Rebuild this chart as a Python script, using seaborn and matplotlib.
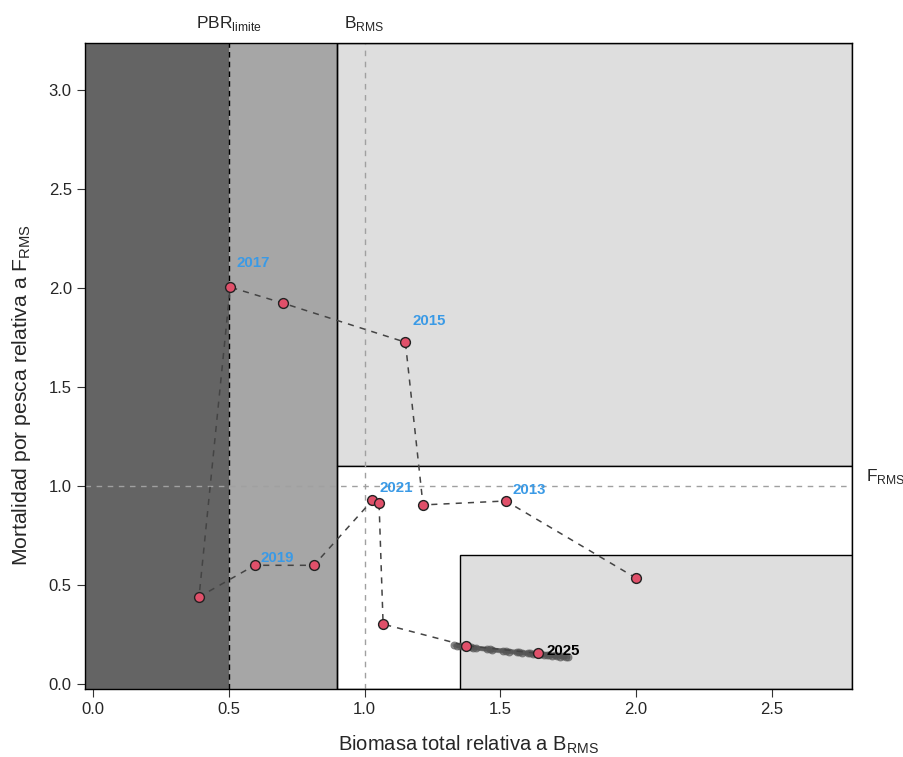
import numpy as np
import pandas as pd
import matplotlib
matplotlib.use('Agg')
import matplotlib.pyplot as plt
from matplotlib.patches import Rectangle
import seaborn as sns

# trayectoria observada (biomasa relativa, mortalidad relativa)
years = [2012, 2013, 2014, 2015, 2016, 2017, 2018, 2019, 2020, 2021, 2022, 2023, 2024, 2025]
b_rel = [2.00, 1.52, 1.215, 1.15, 0.70, 0.505, 0.39, 0.595, 0.813, 1.028, 1.053, 1.068, 1.372, 1.64]
f_rel = [0.535, 0.925, 0.905, 1.727, 1.924, 2.005, 0.44, 0.60, 0.60, 0.928, 0.917, 0.303, 0.194, 0.155]

label_years = [2013, 2015, 2017, 2019, 2021]

# proyecciones (varias trayectorias simuladas)
proj_b1 = [1.33, 1.39, 1.45, 1.51, 1.56, 1.60, 1.64, 1.67, 1.70, 1.73]
proj_f1 = [0.196, 0.186, 0.177, 0.169, 0.163, 0.158, 0.153, 0.149, 0.146, 0.143]
proj_b2 = [1.35, 1.41, 1.47, 1.53, 1.58, 1.62, 1.66, 1.69, 1.72, 1.75]
proj_f2 = [0.190, 0.180, 0.170, 0.162, 0.155, 0.150, 0.145, 0.141, 0.138, 0.136]
proj_b3 = [1.34, 1.40, 1.46, 1.52, 1.57, 1.61, 1.65, 1.68, 1.71, 1.74]
proj_f3 = [0.193, 0.184, 0.175, 0.167, 0.160, 0.155, 0.150, 0.146, 0.142, 0.139]

pbr_lim = 0.5
b_rms = 1.0
f_rms = 1.0

sns.set_style("ticks")
plt.rcParams['font.family'] = ['Liberation Sans', 'DejaVu Sans']

fig = plt.figure(figsize=(9.04, 7.57), dpi=100)
ax = fig.add_axes([0.094, 0.0898, 0.8485, 0.853])
xmin, xmax = -0.03, 2.795
ymin, ymax = -0.025, 3.237

# zonas
ax.add_patch(Rectangle((xmin, ymin), pbr_lim - xmin, ymax - ymin, facecolor='#646464', edgecolor='none', zorder=0))
ax.add_patch(Rectangle((pbr_lim, ymin), 0.9 - pbr_lim, ymax - ymin, facecolor='#a6a6a6', edgecolor='none', zorder=0))
ax.add_patch(Rectangle((0.9, 1.1), xmax - 0.9, ymax - 1.1, facecolor='#dedede', edgecolor='black', lw=1, zorder=0))
ax.add_patch(Rectangle((0.9, ymin), xmax - 0.9, 1.1 - ymin, facecolor='white', edgecolor='black', lw=1, zorder=0))
ax.add_patch(Rectangle((1.35, ymin), xmax - 1.35, 0.65 - ymin, facecolor='#dedede', edgecolor='black', lw=1, zorder=0))
ax.axvline(0.9, color='black', lw=1, zorder=0.5)

# referencias
ax.axvline(pbr_lim, color='black', ls=(0, (4, 3)), lw=1, zorder=1)
ax.axvline(b_rms, color='#a0a0a0', ls=(0, (4, 4)), lw=1, zorder=1)
ax.axhline(f_rms, color='#a0a0a0', ls=(0, (4, 4)), lw=1, zorder=1)

# proyecciones
for pb, pf in [(proj_b1, proj_f1), (proj_b2, proj_f2), (proj_b3, proj_f3)]:
    sns.lineplot(x=pb, y=pf, sort=False, ax=ax, color='#555555', lw=3, alpha=0.6,
                 marker='o', markersize=5, markeredgecolor='#555555', zorder=2)

df = pd.DataFrame({'year': years, 'b': b_rel, 'f': f_rel})
sns.lineplot(data=df, x='b', y='f', sort=False, ax=ax, color='#444444', lw=1.1,
             linestyle=(0, (4, 4)), zorder=3)
sns.scatterplot(data=df, x='b', y='f', ax=ax, color='#e0506a', edgecolor='#222222',
                linewidth=1, s=50, zorder=4)

offsets = {2013: (23, 11), 2015: (24, 21), 2017: (23, 24), 2019: (23, 7), 2021: (24, 12)}
for yr in label_years:
    i = years.index(yr)
    ax.annotate(str(yr), (b_rel[i], f_rel[i]), xytext=offsets[yr], textcoords='offset pixels',
                ha='center', va='center', color='#3a9ae6', fontsize=10.8, fontweight='bold', zorder=5)
ax.annotate('2025', (b_rel[-1], f_rel[-1]), xytext=(8, 2), textcoords='offset pixels',
            ha='left', va='center', color='black', fontsize=10.8, fontweight='bold', zorder=5)

ax.set_xlim(xmin, xmax)
ax.set_ylim(ymin, ymax)
ax.set_xticks([0.0, 0.5, 1.0, 1.5, 2.0, 2.5])
ax.set_yticks([0.0, 0.5, 1.0, 1.5, 2.0, 2.5, 3.0])
ax.set_xticklabels(['0.0', '0.5', '1.0', '1.5', '2.0', '2.5'])
ax.set_yticklabels(['0.0', '0.5', '1.0', '1.5', '2.0', '2.5', '3.0'])
ax.tick_params(labelsize=12, length=6, width=0.8, color='#333333')
for s in ax.spines.values():
    s.set_color('black')
    s.set_linewidth(1)
ax.set_xlabel(r'Biomasa total relativa a B$_{\mathregular{RMS}}$', fontsize=14.5, labelpad=12)
ax.set_ylabel(r'Mortalidad por pesca relativa a F$_{\mathregular{RMS}}$', fontsize=15.2)
ax.yaxis.set_label_coords(-0.068, 0.455)

ax.text(pbr_lim, ymax + 0.05, r'PBR$_{\mathregular{limite}}$', ha='center', va='bottom', fontsize=12.5,
        transform=ax.transData, clip_on=False)
ax.text(b_rms, ymax + 0.05, r'B$_{\mathregular{RMS}}$', ha='center', va='bottom', fontsize=12.5,
        transform=ax.transData, clip_on=False)
ax.text(xmax + 0.05, f_rms, r'F$_{\mathregular{RMS}}$', ha='left', va='bottom', fontsize=12.5,
        transform=ax.transData, clip_on=False)

fig.savefig('out.png', dpi=100)
